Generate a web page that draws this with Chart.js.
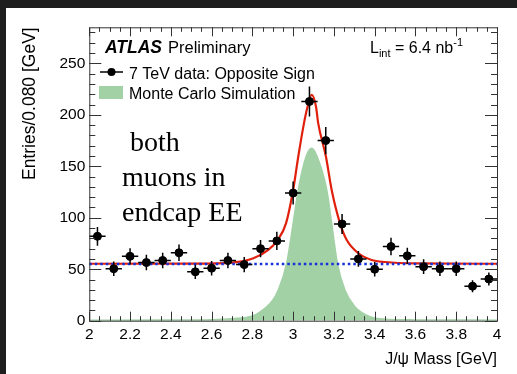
<!DOCTYPE html>
<html>
<head>
<meta charset="utf-8">
<script src="https://cdn.jsdelivr.net/npm/chart.js@4"></script>
<style>
    body { margin: 0; background: #1e1e1e; }
    #wrap { position: absolute; left: 6px; top: 8px; width: 511px; height: 366px; background: #fff; }
</style>
</head>
<body>
<div id="wrap"><canvas id="myChart" width="511" height="366"></canvas></div>
<script>
// Bin centres (bin width 0.080 GeV)
var binCentres = [2.04, 2.12, 2.20, 2.28, 2.36, 2.44, 2.52, 2.60, 2.68, 2.76, 2.84, 2.92, 3.00,
    3.08, 3.16, 3.24, 3.32, 3.40, 3.48, 3.56, 3.64, 3.72, 3.80, 3.88, 3.96];
// Entries per bin
var entries = [82, 50.5, 62.5, 56.5, 58.5, 66, 47.5, 51, 58.5, 54.5, 70, 77.5, 124,
    213, 175, 94, 60, 50, 72, 63, 52.5, 50.5, 50.5, 33.5, 40.5];
// Vertical error bars (half length)
var entryErrors = [9.1, 7.1, 7.9, 7.5, 7.6, 8.1, 6.9, 7.1, 7.6, 7.4, 8.4, 8.8, 11.1,
    14.6, 13.2, 9.7, 7.7, 7.1, 8.5, 7.9, 7.2, 7.1, 7.1, 5.8, 6.4];
var binHalfWidth = 0.04;

// Fit curve (red)
var fitMass = [2.0, 2.5, 2.7, 2.805, 2.878, 2.924, 2.965, 3.0, 3.025, 3.053, 3.071, 3.091,
    3.112, 3.123, 3.161, 3.189, 3.23, 3.263, 3.32, 3.385, 3.45, 3.6, 4.0];
var fitValues = [55.3, 55.5, 56.5, 60.6, 68.7, 78.4, 94.6, 127, 159.3, 191.7, 208, 219.5,
    208, 191.7, 159.3, 127, 94.6, 78.4, 65.5, 59, 57, 55.6, 55.3];

// Background level (blue dotted)
var bgMass = [2.0, 4.0];
var bgValues = [55, 55];

// Monte Carlo shape (green fill)
var mcMass = [2.0, 2.4, 2.6, 2.7, 2.8, 2.87, 2.9, 2.927, 2.968, 3.0, 3.025, 3.063, 3.091,
    3.118, 3.165, 3.189, 3.217, 3.254, 3.303, 3.377, 3.45, 3.6, 4.0];
var mcValues = [0.5, 0.6, 1, 2, 4.5, 13.6, 20, 29.8, 55.7, 94.6, 127, 159.3, 167.4,
    159.3, 127, 94.6, 55.7, 29.8, 13.6, 3.9, 1.5, 0.8, 0.5];

var xTicks = [2, 2.2, 2.4, 2.6, 2.8, 3, 3.2, 3.4, 3.6, 3.8, 4];
var yTicks = [0, 50, 100, 150, 200, 250];

function pts(xs, ys) {
    return xs.map(function (x, i) { return { x: x, y: ys[i] }; });
}

var SANS = '"Liberation Sans", Arial, Helvetica, sans-serif';

// Frame, inward ticks, error bars and texts
var atlasDecor = {
    id: 'atlasDecor',
    afterDatasetsDraw: function (chart) {
        var ctx = chart.ctx;
        var xs = chart.scales.x, ys = chart.scales.y;
        var a = chart.chartArea;
        ctx.save();

        // error bars
        ctx.strokeStyle = '#000';
        ctx.lineWidth = 1.5;
        binCentres.forEach(function (m, i) {
            var px = xs.getPixelForValue(m);
            var py = ys.getPixelForValue(entries[i]);
            ctx.beginPath();
            ctx.moveTo(xs.getPixelForValue(m - binHalfWidth), py);
            ctx.lineTo(xs.getPixelForValue(m + binHalfWidth), py);
            ctx.moveTo(px, ys.getPixelForValue(entries[i] - entryErrors[i]));
            ctx.lineTo(px, ys.getPixelForValue(entries[i] + entryErrors[i]));
            ctx.stroke();
        });

        // frame
        ctx.strokeStyle = '#333';
        ctx.lineWidth = 1;
        ctx.strokeRect(a.left + 0.5, a.top + 0.5, a.right - a.left, a.bottom - a.top);

        // y ticks every 10, major every 50
        ctx.beginPath();
        for (var v = 0; v <= 285; v += 10) {
            var y = Math.round(ys.getPixelForValue(v)) + 0.5;
            var len = (v % 50 === 0) ? 12 : 6;
            ctx.moveTo(a.left, y); ctx.lineTo(a.left + len, y);
            ctx.moveTo(a.right, y); ctx.lineTo(a.right - len, y);
        }
        // x ticks every 0.05, major every 0.2
        for (var k = 0; k <= 40; k++) {
            var x = Math.round(xs.getPixelForValue(2 + k * 0.05)) + 0.5;
            var l2 = (k % 4 === 0) ? 9 : 4.5;
            ctx.moveTo(x, a.bottom); ctx.lineTo(x, a.bottom - l2);
            ctx.moveTo(x, a.top); ctx.lineTo(x, a.top + l2);
        }
        ctx.stroke();

        // ATLAS label
        ctx.fillStyle = '#000';
        ctx.textBaseline = 'alphabetic';
        ctx.textAlign = 'left';
        ctx.font = 'italic bold 17.5px ' + SANS;
        ctx.fillText('ATLAS', 99, 45);
        ctx.font = '16.5px ' + SANS;
        ctx.fillText('Preliminary', 162, 45);

        // luminosity
        var lx = 364;
        ctx.font = '16px ' + SANS;
        ctx.fillText('L', lx, 45);
        lx += ctx.measureText('L').width;
        ctx.font = '11px ' + SANS;
        ctx.fillText('int', lx, 49);
        lx += ctx.measureText('int').width;
        ctx.font = '16px ' + SANS;
        ctx.fillText(' = 6.4 nb', lx, 45);
        lx += ctx.measureText(' = 6.4 nb').width;
        ctx.font = '11px ' + SANS;
        ctx.fillText('-1', lx, 38);

        // legend
        ctx.strokeStyle = '#000';
        ctx.lineWidth = 1.5;
        ctx.beginPath();
        ctx.moveTo(94, 64); ctx.lineTo(117, 64);
        ctx.stroke();
        ctx.beginPath();
        ctx.arc(105.5, 64, 4, 0, Math.PI * 2);
        ctx.fill();
        ctx.font = '16px ' + SANS;
        ctx.fillText('7 TeV data: Opposite Sign', 123, 71);
        ctx.fillStyle = 'rgb(163,209,166)';
        ctx.fillRect(93, 78, 24, 13);
        ctx.fillStyle = '#000';
        ctx.fillText('Monte Carlo Simulation', 123, 91);

        // note
        ctx.font = '28px "Liberation Serif", "Times New Roman", serif';
        ctx.fillText('both', 124, 143);
        ctx.fillText('muons in', 116, 178);
        ctx.fillText('endcap EE', 116, 213);

        // axis titles
        ctx.font = '16px ' + SANS;
        ctx.textAlign = 'right';
        ctx.fillText('J/\u03c8 Mass [GeV]', a.right, 356);
        ctx.font = '17.5px ' + SANS;
        ctx.translate(24, a.top);
        ctx.rotate(-Math.PI / 2);
        ctx.textBaseline = 'middle';
        ctx.fillText('Entries/0.080 [GeV]', 0, 0);

        ctx.restore();
    }
};

var ctx = document.getElementById('myChart').getContext('2d');
var myChart = new Chart(ctx, {
    type: 'scatter',
    data: {
        datasets: [{
            label: '7 TeV data: Opposite Sign',
            data: pts(binCentres, entries),
            backgroundColor: '#000',
            borderColor: '#000',
            pointRadius: 4,
            pointHoverRadius: 4,
            order: 0
        },
        {
            type: 'line',
            label: 'Background',
            data: pts(bgMass, bgValues),
            borderColor: '#1530d8',
            borderWidth: 2.5,
            borderDash: [2.5, 3],
            pointRadius: 0,
            fill: false,
            order: 1
        },
        {
            type: 'line',
            label: 'Fit',
            data: pts(fitMass, fitValues),
            borderColor: '#e0200c',
            borderWidth: 2.2,
            pointRadius: 0,
            cubicInterpolationMode: 'monotone',
            fill: false,
            order: 2
        },
        {
            type: 'line',
            label: 'Monte Carlo Simulation',
            data: pts(mcMass, mcValues),
            borderColor: 'rgb(163,209,166)',
            backgroundColor: 'rgb(163,209,166)',
            borderWidth: 1.5,
            pointRadius: 0,
            cubicInterpolationMode: 'monotone',
            fill: 'origin',
            order: 3
        }]
    },
    options: {
        responsive: false,
        animation: false,
        events: [],
        layout: { padding: { left: 0, top: 19.3, right: 20, bottom: 0 } },
        plugins: {
            legend: { display: false },
            tooltip: { enabled: false }
        },
        scales: {
            x: {
                type: 'linear',
                min: 2,
                max: 4,
                grid: { display: false, drawTicks: false },
                border: { display: false },
                afterFit: function (scale) { scale.height = 53.3; },
                afterBuildTicks: function (scale) {
                    scale.ticks = xTicks.map(function (v) { return { value: v }; });
                },
                ticks: {
                    color: '#000',
                    padding: 5,
                    maxRotation: 0,
                    autoSkip: false,
                    font: { family: SANS, size: 15.5 },
                    callback: function (v) { return String(+(+v).toFixed(1)); }
                }
            },
            y: {
                min: 0,
                max: 285,
                grid: { display: false, drawTicks: false },
                border: { display: false },
                afterFit: function (scale) { scale.width = 83.3; },
                afterBuildTicks: function (scale) {
                    scale.ticks = yTicks.map(function (v) { return { value: v }; });
                },
                ticks: {
                    color: '#000',
                    padding: 4,
                    font: { family: SANS, size: 15.5 }
                }
            }
        }
    },
    plugins: [atlasDecor]
});
</script>
</body>
</html>
